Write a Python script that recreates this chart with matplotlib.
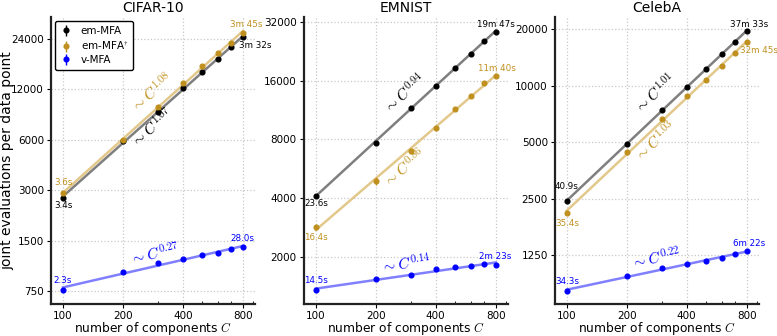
import numpy as np
import matplotlib
matplotlib.use('Agg')
import matplotlib.pyplot as plt
from matplotlib.ticker import FixedLocator, NullLocator, NullFormatter

plt.rcParams['mathtext.fontset'] = 'cm'
plt.rcParams['font.family'] = 'DejaVu Sans'

# --- data ---
C = [100, 200, 300, 400, 500, 600, 700, 800]
x_ticks = [100, 200, 400, 800]

cifar_em = [2700, 5900, 8780, 12160, 15330, 18110, 21600, 24560]
cifar_em_err = [30, 60, 90, 120, 150, 180, 200, 250]
cifar_emd = [2880, 5960, 9480, 13140, 16480, 19760, 22820, 26030]
cifar_emd_err = [60, 150, 250, 250, 300, 300, 350, 400]
cifar_v = [765, 976, 1097, 1170, 1229, 1275, 1334, 1370]
cifar_v_err = [10, 10, 12, 12, 12, 13, 13, 14]

emnist_em = [4100, 7700, 11610, 15090, 18640, 21890, 25600, 28560]
emnist_em_err = [40, 80, 110, 150, 180, 220, 250, 280]
emnist_emd = [2820, 4900, 7000, 9170, 11420, 13270, 15570, 16910]
emnist_emd_err = [80, 250, 200, 180, 220, 250, 300, 300]
emnist_v = [1347, 1532, 1606, 1723, 1758, 1792, 1821, 1815]
emnist_v_err = [15, 15, 16, 17, 18, 18, 18, 18]

celeba_em = [2434, 4900, 7380, 9840, 12250, 14760, 17140, 19440]
celeba_em_err = [25, 50, 70, 100, 120, 150, 170, 190]
celeba_emd = [2100, 4410, 6640, 8780, 10720, 12750, 14880, 17010]
celeba_emd_err = [50, 120, 150, 180, 200, 220, 250, 350]
celeba_v = [810, 976, 1067, 1120, 1171, 1215, 1275, 1312]
celeba_v_err = [10, 10, 11, 11, 12, 12, 13, 13]

titles = ['CIFAR-10', 'EMNIST', 'CelebA']
y_ticks = [[750, 1500, 3000, 6000, 12000, 24000],
           [2000, 4000, 8000, 16000, 32000],
           [1250, 2500, 5000, 10000, 20000]]
y_lims = [(628, 32360), (1140, 33900), (689, 23140)]

# exponent labels: (text, x, y) per series em, em-dagger, v
exp_labels = [
    [(r'$\sim C^{1.07}$', 280, 7070), (r'$\sim C^{1.08}$', 280, 11520), (r'$\sim C^{0.27}$', 289, 1241)],
    [(r'$\sim C^{0.94}$', 279, 13730), (r'$\sim C^{0.86}$', 279, 5680), (r'$\sim C^{0.14}$', 283, 1820)],
    [(r'$\sim C^{1.01}$', 279, 9070), (r'$\sim C^{1.03}$', 279, 5060), (r'$\sim C^{0.22}$', 279, 1205)],
]

# timing labels: (series index, point index, text, dx, dy, ha)
time_labels = [
    [(1, 7, '3m 45s', 3, 8, 'center'), (0, 7, '3m 32s', -4, -8, 'left'),
     (1, 0, '3.6s', 0, 11, 'center'), (0, 0, '3.4s', 0, -8, 'center'),
     (2, 0, '2.3s', 0, 9, 'center'), (2, 7, '28.0s', 0, 9, 'center')],
    [(0, 7, '19m 47s', 0, 7, 'center'), (1, 7, '11m 40s', 1, 7, 'center'),
     (0, 0, '23.6s', 0, -8, 'center'), (1, 0, '16.4s', 0, -10, 'center'),
     (2, 0, '14.5s', 0, 9, 'center'), (2, 7, '2m 23s', 0, 8, 'center')],
    [(0, 7, '37m 33s', 2, 7, 'center'), (1, 7, '32m 45s', -7, -8, 'left'),
     (0, 0, '40.9s', 0, 15, 'center'), (1, 0, '35.4s', 0, -10, 'center'),
     (2, 0, '34.3s', 0, 9, 'center'), (2, 7, '6m 22s', 2, 8, 'center')],
]

datasets = [(cifar_em, cifar_emd, cifar_v), (emnist_em, emnist_emd, emnist_v),
            (celeba_em, celeba_emd, celeba_v)]
dataset_errs = [(cifar_em_err, cifar_emd_err, cifar_v_err),
                (emnist_em_err, emnist_emd_err, emnist_v_err),
                (celeba_em_err, celeba_emd_err, celeba_v_err)]

gold = '#c0901e'
colors = ['black', gold, 'blue']
fit_colors = ['#7f7f7f', '#e3c88c', '#8080ff']
names = ['em-MFA', r'em-MFA$^{\dagger}$', 'v-MFA']

fig = plt.figure(figsize=(7.77, 3.36), dpi=100)
lefts = [0.0656, 0.391, 0.714]

for k in range(3):
    ax = fig.add_axes([lefts[k], 0.095, 0.2625, 0.854])
    ax.set_xscale('log')
    ax.set_yscale('log')
    ax.set_xlim(87, 920)
    ax.set_ylim(*y_lims[k])

    series = datasets[k]
    errs = dataset_errs[k]
    x = np.array(C, dtype=float)

    handles = []
    for i, ys in enumerate(series):
        ys = np.array(ys, dtype=float)
        p = np.polyfit(np.log(x), np.log(ys), 1)
        xf = np.array([100.0, 800.0])
        yf = np.exp(np.polyval(p, np.log(xf)))
        ax.plot(xf, yf, color=fit_colors[i], lw=1.8, zorder=2)
        h = ax.errorbar(x, ys, yerr=errs[i], fmt='o', ms=3.4, color=colors[i],
                        ecolor=colors[i], elinewidth=1, capsize=0, zorder=3,
                        label=names[i])
        handles.append(h)

        # exponent label rotated along fit line
        txt, tx, ty = exp_labels[k][i]
        d1 = ax.transData.transform((xf[0], yf[0]))
        d2 = ax.transData.transform((xf[1], yf[1]))
        ang = np.degrees(np.arctan2(d2[1] - d1[1], d2[0] - d1[0]))
        ax.text(tx, ty, txt, color=colors[i], fontsize=11, rotation=ang,
                ha='center', va='center', rotation_mode='anchor', zorder=4)

    for si, pi, txt, dx, dy, ha in time_labels[k]:
        ax.annotate(txt, (C[pi], series[si][pi]), xytext=(dx, dy),
                    textcoords='offset pixels', ha=ha, va='center',
                    fontsize=6.3, color=colors[si], zorder=5)

    ax.xaxis.set_major_locator(FixedLocator(x_ticks))
    ax.set_xticklabels([str(t) for t in x_ticks])
    ax.xaxis.set_minor_locator(FixedLocator([300, 500, 600, 700, 900]))
    ax.xaxis.set_minor_formatter(NullFormatter())
    ax.yaxis.set_major_locator(FixedLocator(y_ticks[k]))
    ax.set_yticklabels([str(t) for t in y_ticks[k]])
    ax.yaxis.set_minor_locator(NullLocator())

    ax.tick_params(which='major', direction='out', length=3, labelsize=7.5,
                   pad=2, top=False, right=False)
    ax.tick_params(axis='x', which='minor', direction='in', length=2.5,
                   top=False)
    ax.grid(True, which='major', linestyle=':', color='#c8c8c8', lw=0.9)
    ax.set_axisbelow(True)

    for s in ['top', 'right']:
        ax.spines[s].set_visible(False)
    for s in ['left', 'bottom']:
        ax.spines[s].set_linewidth(1.6)
        ax.spines[s].set_color('#222222')

    ax.set_title(titles[k], fontsize=10, pad=4)
    ax.set_xlabel(r'number of components $C$', fontsize=8.8, labelpad=-1)
    if k == 0:
        ax.set_ylabel('joint evaluations per data point', fontsize=10)
        ax.yaxis.set_label_coords(-0.182, 0.5)
        leg = ax.legend(handles=handles, loc='upper left', fontsize=7.5,
                        handlelength=1.1, borderaxespad=0.4, framealpha=1,
                        edgecolor='black', borderpad=0.45, labelspacing=0.3,
                        handletextpad=0.9)
        leg.get_frame().set_linewidth(1.0)

fig.savefig('out.png', dpi=100)
